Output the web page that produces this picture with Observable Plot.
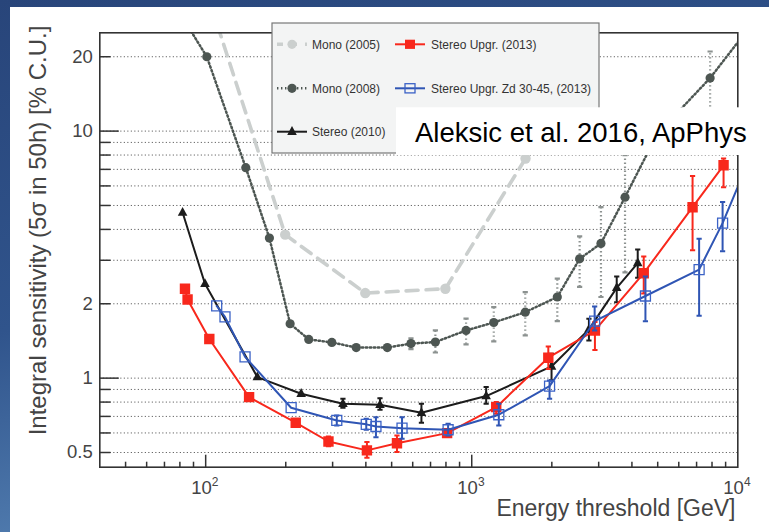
<!DOCTYPE html>
<html><head><meta charset="utf-8">
<script src="https://cdn.jsdelivr.net/npm/d3@7"></script>
<script src="https://cdn.jsdelivr.net/npm/@observablehq/plot@0.6"></script>
<style>
html,body{margin:0;padding:0;}
body{width:769px;height:532px;overflow:hidden;position:relative;background:linear-gradient(165deg,#28457a 0%,#30548c 45%,#6b9dcc 100%);font-family:"Liberation Sans",Arial,sans-serif;}
#panel{position:absolute;left:10px;top:7px;width:759px;height:525px;background:#fff;}
#chart{position:absolute;left:0;top:0;}
#over{position:absolute;left:0;top:0;}
</style></head>
<body>
<div id="panel"></div>
<div id="chart"></div>
<svg id="over" width="769" height="532" font-family="Liberation Sans, Arial, sans-serif"></svg>
<script>
// ---- data (Energy threshold GeV, sensitivity % C.U.) ----
const mono05E = [105, 199, 398, 796, 1593];
const mono05V = [32, 3.81, 2.21, 2.30, 7.75];

const mono08E  = [85, 101, 141.5, 173.6, 207.7, 244, 298, 368, 481.6, 591, 730, 952, 1210, 1589, 2097, 2544, 3060, 3768, 4977, 7870, 12000];
const mono08V  = [27, 20.0, 7.11, 3.69, 1.66, 1.435, 1.395, 1.33, 1.33, 1.38, 1.40, 1.56, 1.68, 1.85, 2.13, 3.04, 3.51, 5.40, 9.72, 16.4, 29.5];
const mono08Lo = [null,null,null,null,null,null,null,null,1.30,1.31,1.27,1.37,1.41,1.49,1.70,2.34,2.13,2.68,null,10,null];
const mono08Hi = [null,null,null,null,null,null,null,null,1.36,1.45,1.56,1.74,1.94,2.23,2.53,3.75,4.92,8.0,null,21,null];

const stereoE  = [81.9, 99.4, 156.4, 228.5, 328, 452, 647, 1133, 1995, 2757, 3507, 4206];
const stereoV  = [4.68, 2.41, 1.01, 0.865, 0.788, 0.78, 0.724, 0.846, 1.115, 1.575, 2.32, 2.92];
const stereoLo = [null,null,null,null,0.759,0.745,0.66,0.788,0.98,1.42,2.03,2.55];
const stereoHi = [null,null,null,null,0.825,0.83,0.788,0.92,1.255,1.74,2.58,3.32];

const upgrE  = [83.6, 85.5, 103.2, 145.6, 218, 289.4, 403.7, 523.6, 808, 1236, 1940, 2904, 4431, 6761, 8841];
const upgrV  = [2.30, 2.08, 1.44, 0.838, 0.66, 0.554, 0.51, 0.545, 0.599, 0.763, 1.21, 1.56, 2.66, 4.92, 7.27];
const upgrLo = [null,null,null,null,null,0.53,0.476,0.502,0.58,0.717,1.09,1.30,2.20,3.29,5.93];
const upgrHi = [null,null,null,null,null,0.58,0.551,0.586,0.62,0.80,1.344,1.686,3.11,6.58,7.74];

const zdE  = [110, 118.2, 140.6, 209.5, 311, 401.4, 436.5, 547, 815, 1264, 1961, 2897, 4496, 7155, 8767, 11000];
const zdV  = [1.96, 1.77, 1.22, 0.759, 0.674, 0.65, 0.637, 0.627, 0.618, 0.711, 0.928, 1.70, 2.15, 2.75, 4.24, 7.6];
const zdLo = [null,null,null,null,0.643,0.618,0.577,0.568,0.586,0.643,0.825,1.56,1.70,1.79,3.26,null];
const zdHi = [null,null,null,null,0.706,0.685,0.695,0.695,0.654,0.788,0.979,1.95,2.58,3.67,5.16,null];

const yGrid = [0.5,0.6,0.7,0.8,0.9,1,2,3,4,5,6,7,8,9,10,20];
const yMajor = [1, 10];
const yMinor = [0.5,0.6,0.7,0.8,0.9,2,3,4,5,6,7,8,9,20];
const yLabels = [0.5, 1, 2, 10, 20];
const xMajor = [100, 1000];
const xMinor = [50,60,70,80,90,200,300,400,500,600,700,800,900,2000,3000,4000,5000,6000,7000,8000,9000];
const xLabels = [100, 1000, 10000];

const legendItems = [
  {label:"Mono (2005)", col:0, row:0, key:"m05"},
  {label:"Mono (2008)", col:0, row:1, key:"m08"},
  {label:"Stereo (2010)", col:0, row:2, key:"st"},
  {label:"Stereo Upgr. (2013)", col:1, row:0, key:"up"},
  {label:"Stereo Upgr. Zd 30-45, (2013)", col:1, row:1, key:"zd"}
];
const noteText = "Aleksic et al. 2016, ApPhys";
const xTitle = "Energy threshold [GeV]";
const yTitle = "Integral sensitivity (5σ in 50h) [% C.U.]";

// ---- styles ----
const C = {m05:"#cbcfce", m08:"#4d5652", m08err:"#8c9290", st:"#1c1c1c", up:"#f8281c", zd:"#2f55b4", axis:"#333", text:"#444"};
const DOT08 = "1.4,2.6";

const table = (E,V,Lo,Hi) => E.map((e,i)=>({E:e, v:V[i], lo:Lo?Lo[i]:null, hi:Hi?Hi[i]:null}));
const m05 = table(mono05E, mono05V);
const m08 = table(mono08E, mono08V, mono08Lo, mono08Hi);
const st = table(stereoE, stereoV, stereoLo, stereoHi);
const up = table(upgrE, upgrV, upgrLo, upgrHi);
const zd = table(zdE, zdV, zdLo, zdHi);
const hasErr = d => d.lo != null && d.hi != null;

const sym = {
  square: {draw(c){c.rect(-5.2,-5.2,10.4,10.4);}},
  osquare: {draw(c){c.rect(-5,-5,10,10);}},
  tri: {draw(c){c.moveTo(0,-5.6);c.lineTo(4.8,3.2);c.lineTo(-4.8,3.2);c.closePath();}},
  circ: {draw(c){c.moveTo(4.6,0);c.arc(0,0,4.6,0,2*Math.PI);}},
  circ5: {draw(c){c.moveTo(5.2,0);c.arc(0,0,5.2,0,2*Math.PI);}},
  cap: {draw(c){c.moveTo(-2.6,0);c.lineTo(2.6,0);}},
  tickR: L => ({draw(c){c.moveTo(0,0);c.lineTo(L,0);}}),
  tickU: L => ({draw(c){c.moveTo(0,0);c.lineTo(0,-L);}})
};

function errMarks(data, color, width, dash) {
  const d = data.filter(hasErr);
  return [
    Plot.ruleX(d, {x:"E", y1:"lo", y2:"hi", stroke:color, strokeWidth:width, strokeDasharray:dash, clip:true}),
    Plot.dot(d, {x:"E", y:"lo", symbol:sym.cap, stroke:color, strokeWidth:width, clip:true}),
    Plot.dot(d, {x:"E", y:"hi", symbol:sym.cap, stroke:color, strokeWidth:width, clip:true})
  ];
}

const chart = Plot.plot({
  width: 769, height: 532,
  marginLeft: 99.3, marginRight: 31.7, marginTop: 32.3, marginBottom: 65.3,
  x: {type:"log", domain:[40,10000], nice:false, axis:null},
  y: {type:"log", domain:[0.436,25], nice:false, axis:null},
  style: {background:"transparent", fontFamily:"Liberation Sans, Arial, sans-serif", overflow:"visible"},
  marks: [
    Plot.ruleY(yGrid, {y:d=>d, stroke:"#555", strokeWidth:1, strokeDasharray:"1.1,2.4"}),
    // Mono 2005
    Plot.line(m05, {x:"E", y:"v", stroke:C.m05, strokeWidth:3.6, strokeDasharray:"12,8", clip:true}),
    Plot.dot(m05, {x:"E", y:"v", symbol:sym.circ5, fill:C.m05, clip:true}),
    // Mono 2008
    ...errMarks(m08, C.m08err, 2.2, DOT08),
    Plot.line(m08, {x:"E", y:"v", stroke:C.m08, strokeWidth:2.5, strokeDasharray:DOT08, clip:true}),
    Plot.dot(m08, {x:"E", y:"v", symbol:sym.circ, fill:C.m08, clip:true}),
    // Stereo 2010
    ...errMarks(st, C.st, 2),
    Plot.line(st, {x:"E", y:"v", stroke:C.st, strokeWidth:2, clip:true}),
    Plot.dot(st, {x:"E", y:"v", symbol:sym.tri, fill:C.st, clip:true}),
    // Stereo Upgr 2013
    ...errMarks(up, C.up, 2),
    Plot.line(up, {x:"E", y:"v", stroke:C.up, strokeWidth:2, clip:true}),
    Plot.dot(up, {x:"E", y:"v", symbol:sym.square, fill:C.up, clip:true}),
    // Stereo Upgr Zd 30-45
    ...errMarks(zd, C.zd, 2),
    Plot.line(zd, {x:"E", y:"v", stroke:C.zd, strokeWidth:2, clip:true}),
    Plot.dot(zd, {x:"E", y:"v", symbol:sym.osquare, fill:"none", stroke:"#3b62c6", strokeWidth:1.3, clip:true}),
    // frame & ticks
    Plot.frame({stroke:C.axis, strokeWidth:1.6}),
    Plot.dot(yMajor, {y:d=>d, frameAnchor:"left", symbol:sym.tickR(19), stroke:C.axis, strokeWidth:1.5}),
    Plot.dot(yMinor, {y:d=>d, frameAnchor:"left", symbol:sym.tickR(10.7), stroke:C.axis, strokeWidth:1.5}),
    Plot.dot(xMajor, {x:d=>d, frameAnchor:"bottom", symbol:sym.tickU(12.5), stroke:C.axis, strokeWidth:1.5}),
    Plot.dot(xMinor, {x:d=>d, frameAnchor:"bottom", symbol:sym.tickU(5.5), stroke:C.axis, strokeWidth:1.5}),
    // tick labels
    Plot.text(yLabels, {y:d=>d, frameAnchor:"left", text:d=>String(d), textAnchor:"end", lineAnchor:"middle", dx:-7, fontSize:18.5, fill:C.text}),
    Plot.text(xLabels, {x:d=>d, frameAnchor:"bottom", text:()=>"10", textAnchor:"middle", lineAnchor:"middle", dx:-4.2, dy:20.8, fontSize:18.5, fill:C.text}),
    Plot.text(xLabels, {x:d=>d, frameAnchor:"bottom", text:d=>String(Math.round(Math.log10(d))), textAnchor:"middle", lineAnchor:"middle", dx:9.5, dy:15.2, fontSize:12, fill:C.text}),
    // axis titles
    Plot.text([xTitle], {frameAnchor:"bottom-right", text:d=>d, textAnchor:"end", lineAnchor:"middle", dx:-2.3, dy:41.9, fontSize:23, fill:C.text}),
    Plot.text([yTitle], {frameAnchor:"left", text:d=>d, rotate:-90, textAnchor:"middle", lineAnchor:"middle", dx:-61, dy:-19.5, fontSize:24, fill:C.text})
  ]
});
document.getElementById("chart").appendChild(chart);

// ---- legend & annotation overlay ----
const svg = d3.select("#over");
const L = {x:272, y:23, w:327, h:130, rowY:[44.3, 88.3, 131.7], colX:[277, 395], swW:30, textDx:35};
svg.append("rect").attr("x",L.x).attr("y",L.y).attr("width",L.w).attr("height",L.h)
  .attr("fill","#f3f4f4").attr("stroke","#777").attr("stroke-width",1.2);
for (const it of legendItems) {
  const x0 = L.colX[it.col], y0 = L.rowY[it.row], xm = x0 + 15;
  const g = svg.append("g");
  if (it.key === "m05") {
    g.append("line").attr("x1",x0).attr("x2",x0+L.swW).attr("y1",y0).attr("y2",y0)
      .attr("stroke",C.m05).attr("stroke-width",3.6).attr("stroke-dasharray","6,8");
    g.append("circle").attr("cx",xm).attr("cy",y0).attr("r",4.6).attr("fill",C.m05);
  } else if (it.key === "m08") {
    g.append("line").attr("x1",x0).attr("x2",x0+L.swW).attr("y1",y0).attr("y2",y0)
      .attr("stroke",C.m08).attr("stroke-width",2.5).attr("stroke-dasharray",DOT08);
    g.append("circle").attr("cx",xm).attr("cy",y0).attr("r",4.6).attr("fill",C.m08);
  } else if (it.key === "st") {
    g.append("line").attr("x1",x0).attr("x2",x0+L.swW).attr("y1",y0).attr("y2",y0)
      .attr("stroke",C.st).attr("stroke-width",2);
    g.append("path").attr("transform",`translate(${xm},${y0})`).attr("d","M0,-5.6L4.8,3.2L-4.8,3.2Z").attr("fill",C.st);
  } else if (it.key === "up") {
    g.append("line").attr("x1",x0).attr("x2",x0+L.swW).attr("y1",y0).attr("y2",y0)
      .attr("stroke",C.up).attr("stroke-width",2);
    g.append("rect").attr("x",xm-5).attr("y",y0-4.6).attr("width",10).attr("height",9.2).attr("fill",C.up);
  } else if (it.key === "zd") {
    g.append("line").attr("x1",x0).attr("x2",x0+L.swW).attr("y1",y0).attr("y2",y0)
      .attr("stroke",C.zd).attr("stroke-width",2);
    g.append("rect").attr("x",xm-5).attr("y",y0-4.6).attr("width",10).attr("height",9.2)
      .attr("fill","none").attr("stroke","#3b62c6").attr("stroke-width",1.3);
  }
  g.append("text").attr("x",x0+L.textDx+(it.col?1:0)).attr("y",y0).attr("dy","0.35em")
    .attr("font-size",12).attr("fill","#333").text(it.label);
}
svg.append("rect").attr("x",396).attr("y",107.3).attr("width",373).attr("height",47.7).attr("fill","#fff");
svg.append("text").attr("x",415).attr("y",141.7).attr("font-size",27.5).attr("fill","#000").text(noteText);
</script>
</body></html>
